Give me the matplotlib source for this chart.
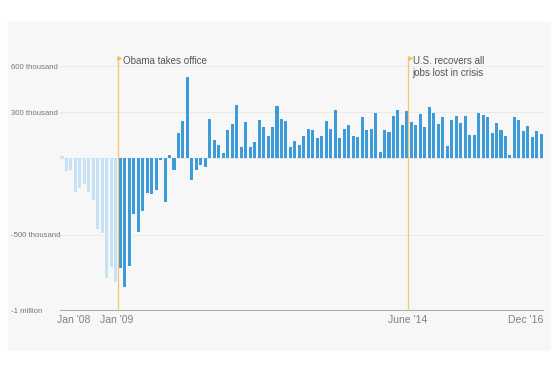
import matplotlib.pyplot as plt
from matplotlib.patches import Rectangle

plt.rcParams['font.family'] = ['Liberation Sans', 'DejaVu Sans']

# monthly change in payrolls, thousands, Jan 2008 .. Dec 2016
jobs_2008 = [13, -85, -80, -220, -198, -172, -220, -275, -466, -488, -787, -711]
jobs_2009 = [-809, -722, -842, -704, -366, -486, -344, -227, -233, -209, -10, -290]
jobs_2010 = [22, -78, 161, 242, 527, -144, -78, -46, -61, 255, 118, 83]
jobs_2011 = [35, 183, 225, 347, 72, 235, 70, 105, 246, 203, 144, 205]
jobs_2012 = [340, 257, 240, 72, 113, 83, 142, 190, 181, 129, 146, 244]
jobs_2013 = [190, 312, 133, 192, 218, 144, 140, 268, 185, 190, 292, 39]
jobs_2014 = [185, 168, 273, 312, 214, 309, 233, 216, 288, 201, 334, 294]
jobs_2015 = [220, 266, 81, 251, 275, 227, 277, 148, 148, 294, 281, 270]
jobs_2016 = [166, 231, 185, 142, 17, 270, 251, 174, 207, 140, 177, 155]

jobs = (jobs_2008 + jobs_2009 + jobs_2010 + jobs_2011 + jobs_2012
        + jobs_2013 + jobs_2014 + jobs_2015 + jobs_2016)
months = list(range(len(jobs)))
n_before = 13  # Jan 2008 .. Jan 2009 drawn light

xtick_pos = [2.5, 12.3, 77.2, 103.6]
xtick_labels = ["Jan '08", "Jan '09", "June '14", "Dec '16"]
ytick_vals = [600, 300, -500, -1000]
ytick_labels = ['600 thousand', '300 thousand', '-500 thousand', '-1 million']

obama_x = 12.4
recover_x = 77.3

light = '#c6e2f4'
dark = '#3d9bd8'
gold = '#f3c15f'

fig = plt.figure(figsize=(5.58, 3.9), dpi=100, facecolor='white')
# light grey panel behind the chart
fig.patches.append(Rectangle((8 / 558, 40 / 390), 542 / 558, 328 / 390,
                             transform=fig.transFigure, color='#f7f7f7', zorder=-10))

ax = fig.add_axes([0.1071, 0.2026, 0.867, 0.653])
ax.set_facecolor('none')

colors = [light if i < n_before else dark for i in months]
ax.bar(months, jobs, width=0.68, color=colors, zorder=2)

ax.set_xlim(-0.5, 107.5)
ax.set_ylim(-1000, 665)

# grid
for v in [600, 300, -500]:
    ax.axhline(v, color='#e8e8e8', lw=0.6, zorder=1)
ax.axhline(0, color='#d0d0d0', lw=0.6, ls=(0, (1, 1)), zorder=1)
ax.axhline(-1000, color='#9a9a9a', lw=1.2, zorder=3)

# event lines
for xv in [obama_x, recover_x]:
    ax.plot([xv, xv], [-1000, 660], color=gold, lw=0.9, zorder=4, alpha=0.9)
    ax.plot([xv + 0.4], [655], marker='>', ms=2.5, color=gold, zorder=4, clip_on=False)

ax.text(obama_x + 1.2, 634, 'Obama takes office', fontsize=7, color='#555555',
        va='center', ha='left')
ax.text(recover_x + 1.0, 595, 'U.S. recovers all\njobs lost in crisis', fontsize=7,
        color='#555555', va='center', ha='left', linespacing=1.2)

for s in ax.spines.values():
    s.set_visible(False)

ax.set_xticks(xtick_pos, xtick_labels)
ax.tick_params(axis='x', length=0, pad=3, labelsize=7.5, labelcolor='#808080')
ax.set_yticks(ytick_vals, ytick_labels)
ax.tick_params(axis='y', length=0, pad=35, labelsize=5.6, labelcolor='#777777')
for lab in ax.get_yticklabels():
    lab.set_horizontalalignment('left')

fig.savefig('out.png', dpi=100, facecolor=fig.get_facecolor())
